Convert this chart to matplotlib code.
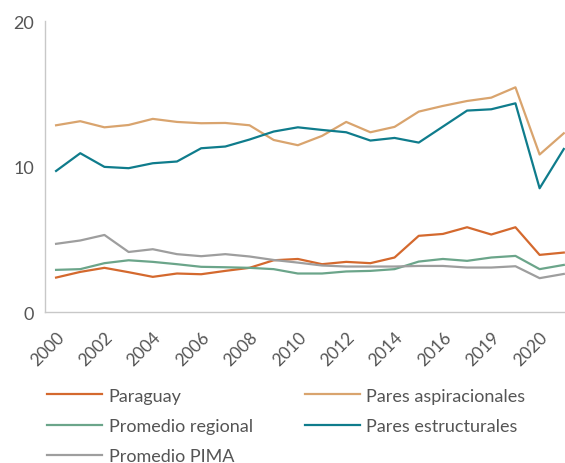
import matplotlib.pyplot as plt

plt.rcParams['font.family'] = ['Lato', 'DejaVu Sans']

years = list(range(22))
tick_pos = [0, 2, 4, 6, 8, 10, 12, 14, 16, 18, 20]
tick_labels = ["2000", "2002", "2004", "2006", "2008", "2010", "2012", "2014", "2016", "2019", "2020"]

paraguay = [2.38, 2.77, 3.05, 2.75, 2.43, 2.66, 2.61, 2.84, 3.05, 3.57, 3.66,
            3.30, 3.46, 3.37, 3.76, 5.25, 5.38, 5.84, 5.34, 5.84, 3.94, 4.10]
aspiracionales = [12.85, 13.13, 12.71, 12.87, 13.29, 13.08, 12.99, 13.01, 12.85, 11.84, 11.48,
                  12.12, 13.08, 12.37, 12.74, 13.79, 14.18, 14.52, 14.75, 15.46, 10.84, 12.30]
regional = [2.91, 2.96, 3.37, 3.57, 3.46, 3.30, 3.12, 3.09, 3.05, 2.96, 2.66,
            2.66, 2.80, 2.84, 2.96, 3.48, 3.66, 3.53, 3.76, 3.87, 2.96, 3.25]
estructurales = [9.71, 10.93, 9.99, 9.90, 10.24, 10.36, 11.27, 11.39, 11.87, 12.42, 12.71,
                 12.53, 12.37, 11.80, 11.98, 11.66, 12.76, 13.86, 13.95, 14.36, 8.52, 11.22]
pima = [4.70, 4.93, 5.31, 4.14, 4.33, 3.99, 3.85, 3.99, 3.83, 3.59, 3.41,
        3.21, 3.14, 3.14, 3.14, 3.18, 3.18, 3.07, 3.07, 3.16, 2.34, 2.63]

fig = plt.figure(figsize=(5.65, 4.64), dpi=100)
ax = fig.add_axes([0.08, 0.325, 0.92, 0.627])

l_par, = ax.plot(years, paraguay, color="#D4692E", lw=1.6, label="Paraguay")
l_asp, = ax.plot(years, aspiracionales, color="#D9A46E", lw=1.6, label="Pares aspiracionales")
l_reg, = ax.plot(years, regional, color="#6BA58A", lw=1.6, label="Promedio regional")
l_est, = ax.plot(years, estructurales, color="#0F7C8C", lw=1.6, label="Pares estructurales")
l_pima, = ax.plot(years, pima, color="#9E9E9E", lw=1.6, label="Promedio PIMA")

ax.set_ylim(0, 20)
ax.set_xlim(-0.45, 21.05)
ax.set_yticks([0, 10, 20])
ax.set_xticks(tick_pos)
ax.set_xticklabels(tick_labels, rotation=45, ha="right", rotation_mode="anchor")
ax.tick_params(axis="y", length=0, labelsize=13, colors="#555555", pad=8)
ax.tick_params(axis="x", length=0, labelsize=12.5, colors="#555555", pad=12)
for s in ["top", "right"]:
    ax.spines[s].set_visible(False)
for s in ["left", "bottom"]:
    ax.spines[s].set_color("#C8C8C8")
    ax.spines[s].set_linewidth(1)

# column-first fill: left column then right column
handles = [l_par, l_reg, l_pima, l_asp, l_est]
ax.legend(handles, [h.get_label() for h in handles],
          loc="upper left", bbox_to_anchor=(-0.01, -0.235), ncol=2, frameon=False,
          fontsize=13, labelcolor="#555555", handlelength=3.05, handletextpad=0.35,
          columnspacing=2.9, labelspacing=0.78, borderaxespad=0)

fig.savefig("out.png", dpi=100)
